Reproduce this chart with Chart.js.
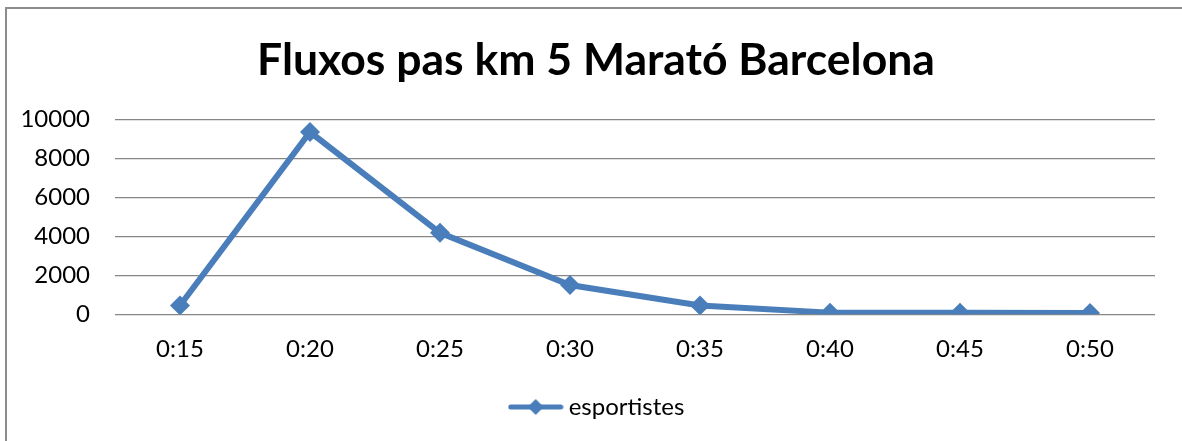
<!DOCTYPE html>
<html>
<head>
<meta charset="utf-8">
<script src="https://cdn.jsdelivr.net/npm/chart.js@4"></script>
<style>
  html, body { margin: 0; padding: 0; background: #fff; overflow: hidden; }
  #wrap { position: relative; width: 1182px; height: 441px; }
  #frame { position: absolute; left: 5px; top: 7px; width: 1200px; height: 460px;
           border-top: 2px solid #8c8c8c; border-left: 2px solid #8c8c8c; }
  canvas { position: absolute; left: 0; top: 0; }
</style>
</head>
<body>
<div id="wrap">
  <div id="frame"></div>
  <canvas id="fluxChart" width="1182" height="441"></canvas>
</div>
<script>
// Dades del gràfic
const labels = ["0:15", "0:20", "0:25", "0:30", "0:35", "0:40", "0:45", "0:50"];
const esportistes = [450, 9350, 4180, 1500, 450, 80, 80, 60];
const yTicks = [0, 2000, 4000, 6000, 8000, 10000];

const blue = "#4a7ebb";
const font = "Lato, 'Open Sans', sans-serif";

// Marcador de llegenda: línia amb rombe
const legendMark = document.createElement("canvas");
legendMark.width = 56;
legendMark.height = 18;
const lc = legendMark.getContext("2d");
lc.strokeStyle = blue;
lc.lineWidth = 5;
lc.lineCap = "round";
lc.beginPath();
lc.moveTo(3, 9);
lc.lineTo(53, 9);
lc.stroke();
lc.fillStyle = blue;
lc.beginPath();
lc.moveTo(28, 1);
lc.lineTo(36, 9);
lc.lineTo(28, 17);
lc.lineTo(20, 9);
lc.closePath();
lc.fill();

// Centra títol i llegenda una mica més a la dreta, com a l'original
const shiftBlocks = {
  id: "shiftBlocks",
  afterLayout(chart) {
    if (chart.titleBlock) chart.titleBlock.left += 37;
    if (chart.legend) chart.legend.left += 44;
  },
};

const ctx = document.getElementById("fluxChart").getContext("2d");
new Chart(ctx, {
  type: "line",
  data: {
    labels: labels,
    datasets: [
      {
        label: "esportistes",
        data: esportistes,
        borderColor: blue,
        backgroundColor: blue,
        borderWidth: 6,
        pointStyle: "rectRot",
        pointRadius: 10,
        pointHoverRadius: 10,
        pointBorderWidth: 0,
        tension: 0,
        fill: false,
      },
    ],
  },
  options: {
    responsive: false,
    animation: false,
    layout: { padding: { left: 0, right: 27, top: 0, bottom: 12 } },
    scales: {
      x: {
        offset: true,
        grid: { display: false, drawTicks: false },
        border: { display: false },
        ticks: { color: "#000", font: { family: font, size: 24 }, padding: 21 },
      },
      y: {
        min: 0,
        max: 10000,
        afterFit: (scale) => { scale.width = 115; },
        afterBuildTicks: (scale) => { scale.ticks = yTicks.map((v) => ({ value: v })); },
        grid: { color: "#868686", lineWidth: 1.3, drawTicks: false },
        border: { display: false },
        ticks: {
          color: "#000",
          font: { family: font, size: 24 },
          padding: 25,
          callback: (v) => String(v),
        },
      },
    },
    plugins: {
      title: {
        display: true,
        text: "Fluxos pas km 5 Marató Barcelona",
        color: "#000",
        font: { family: font, size: 44.5, weight: "bold" },
        padding: { top: 34, bottom: 32 },
      },
      legend: {
        position: "bottom",
        labels: {
          usePointStyle: true,
          pointStyle: legendMark,
          pointStyleWidth: 42,
          color: "#000",
          font: { family: font, size: 24 },
          padding: 10,
        },
      },
      tooltip: { enabled: false },
    },
  },
  plugins: [shiftBlocks],
});
</script>
</body>
</html>
